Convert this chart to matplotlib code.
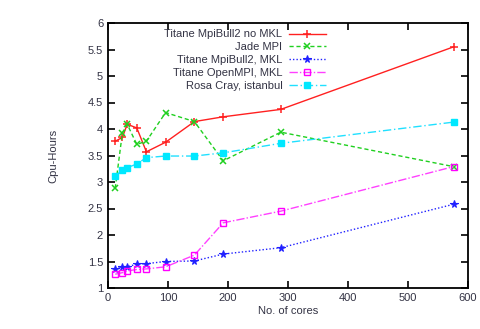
import matplotlib
matplotlib.use("Agg")
import matplotlib.pyplot as plt

plt.rcParams['font.family'] = ['Liberation Sans', 'DejaVu Sans']

cores = [12, 24, 32, 48, 64, 96, 144, 192, 288, 576]
titane_nomkl = [3.77, 3.84, 4.09, 4.02, 3.57, 3.75, 4.14, 4.23, 4.37, 5.55]
jade_mpi = [2.88, 3.93, 4.09, 3.71, 3.77, 4.31, 4.14, 3.40, 3.94, 3.29]
titane_mkl = [1.35, 1.40, 1.40, 1.45, 1.46, 1.50, 1.51, 1.64, 1.76, 2.58]
titane_openmpi = [1.26, 1.29, 1.32, 1.35, 1.36, 1.40, 1.62, 2.23, 2.45, 3.29]
rosa_cray = [3.11, 3.23, 3.27, 3.34, 3.46, 3.49, 3.49, 3.55, 3.73, 4.13]

labels = ["Titane MpiBull2 no MKL", "Jade MPI", "Titane MpiBull2, MKL",
          "Titane OpenMPI, MKL", "Rosa Cray, istanbul"]

fig = plt.figure(figsize=(4.81, 3.29), dpi=100)
ax = fig.add_axes([108/481, 1-288/329, (468-108)/481, (288-23)/329])

lw = 1.0
ax.plot(cores, titane_nomkl, color='#ff2020', ls='-', lw=lw, marker='+', ms=6, mew=1.1, label=labels[0])
ax.plot(cores, jade_mpi, color='#20d020', ls=(0, (3, 2)), lw=lw, marker='x', ms=4.5, mew=1.1, label=labels[1])
ax.plot(cores, titane_mkl, color='#2020ff', ls=(0, (1, 1.5)), lw=lw, marker='*', ms=5.5, mew=0.8, label=labels[2])
ax.plot(cores, titane_openmpi, color='#ff40ff', ls=(0, (6, 1.5, 1, 1.5)), lw=lw, marker='s', ms=4.5,
        mfc='none', mec='#ff00ff', mew=1.0, label=labels[3])
ax.plot(cores, rosa_cray, color='#20e0ff', ls=(0, (6, 2, 1, 2)), lw=lw, marker='s', ms=4.5,
        mfc='#00e8ff', mec='#00e8ff', label=labels[4])

ax.set_xlim(0, 600)
ax.set_ylim(1, 6)
ax.set_xticks(range(0, 601, 100))
ax.set_yticks([1, 1.5, 2, 2.5, 3, 3.5, 4, 4.5, 5, 5.5, 6])
ax.set_yticklabels(['1', '1.5', '2', '2.5', '3', '3.5', '4', '4.5', '5', '5.5', '6'])
ax.tick_params(direction='in', length=5, width=1.2, top=True, right=True, labelsize=8,
               labelcolor='#333344')
for s in ax.spines.values():
    s.set_linewidth(1.3)

ax.set_xlabel("No. of cores", fontsize=8, color='#333344', labelpad=2)
ax.set_ylabel("Cpu-Hours", fontsize=8, color='#333344', labelpad=21)

leg = ax.legend(loc='upper left', bbox_to_anchor=(0.135, 1.005), frameon=False, fontsize=8,
                markerfirst=False, handlelength=3.3, labelspacing=0.25, borderpad=0.2,
                handletextpad=0.6)
for t in leg.get_texts():
    t.set_color('#333344')

fig.savefig("out.png", dpi=100)
